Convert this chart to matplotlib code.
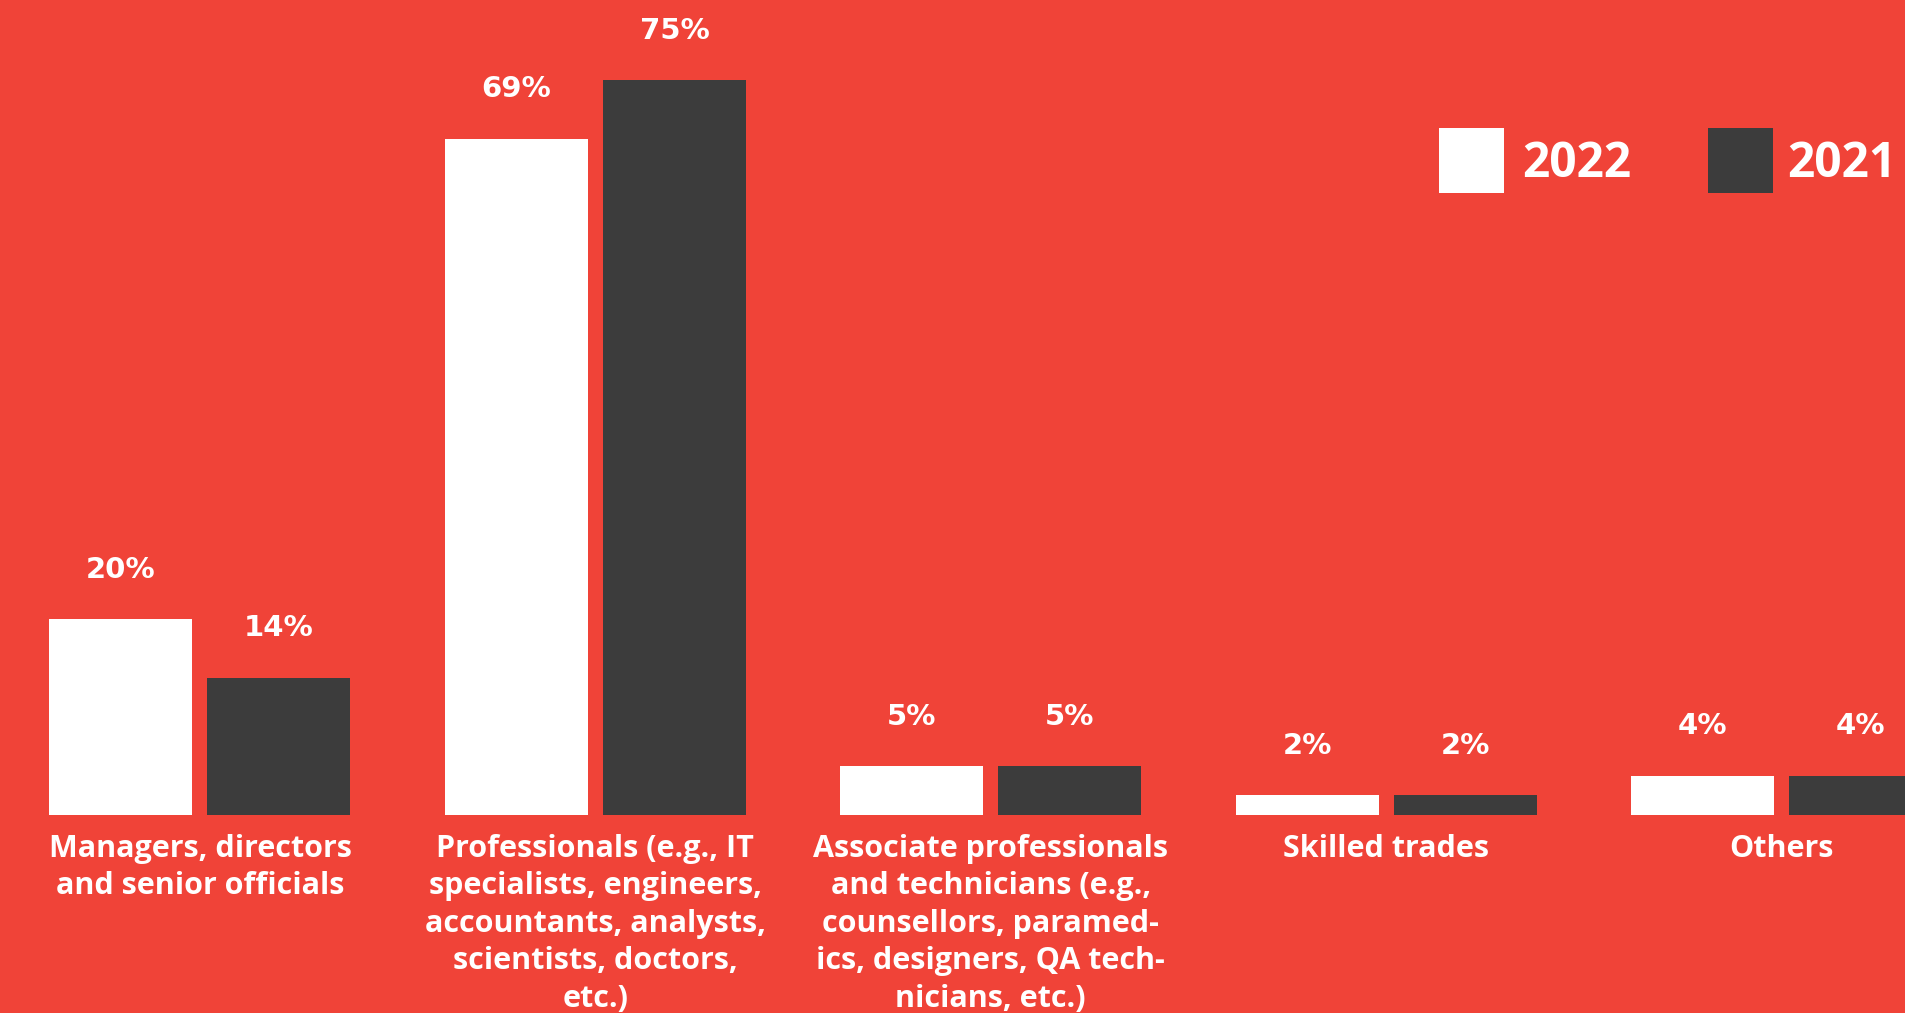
import matplotlib
matplotlib.use("Agg")
import matplotlib.pyplot as plt
from matplotlib.patches import Rectangle
import numpy as np

# ---- data ----
categories = [
    "Managers, directors\nand senior officials",
    "Professionals (e.g., IT\nspecialists, engineers,\naccountants, analysts,\nscientists, doctors,\netc.)",
    "Associate professionals\nand technicians (e.g.,\ncounsellors, paramed-\nics, designers, QA tech-\nnicians, etc.)",
    "Skilled trades",
    "Others",
]
values_2022 = [20, 69, 5, 2, 4]
values_2021 = [14, 75, 5, 2, 4]
series_labels = ["2022", "2021"]

# ---- style ----
BG = "#F04338"
WHITE = "#FFFFFF"
DARK = "#3C3C3C"
FONT = "Open Sans"
VAL_FONT = "DejaVu Sans"

W, H, DPI = 1906, 1013, 100
fig = plt.figure(figsize=(W / DPI, H / DPI), dpi=DPI, facecolor=BG)
ax = fig.add_axes([0, 0, 1, 1])
ax.set_facecolor(BG)

group_px = 395.4
x0_px = 200.0
px_per_pct = 9.8
base_px = 815.0
ax.set_xlim(-x0_px / group_px, (W - x0_px) / group_px)
ax.set_ylim(-(H - base_px) / px_per_pct, base_px / px_per_pct)

bar_w = 143 / group_px
off = 79 / group_px
x = np.arange(len(categories))
series = [values_2022, values_2021]
colors = [WHITE, DARK]
for s, (vals, col) in enumerate(zip(series, colors)):
    xs = x - off if s == 0 else x + off
    ax.bar(xs, vals, width=bar_w, color=col, linewidth=0)
    for xi, v in zip(xs, vals):
        ax.annotate(f"{v}%", xy=(xi, v), xytext=(0, 41.5 * 72 / DPI),
                    textcoords="offset points", ha="center", va="baseline",
                    color="white", fontsize=21, fontweight="bold", family=VAL_FONT)

# category labels
for xi, cat in zip(x, categories):
    for k, line in enumerate(cat.split("\n")):
        ax.annotate(line, xy=(xi, 0), xytext=(0, -(41.7 + 37.5 * k) * 72 / DPI),
                    textcoords="offset points", ha="center", va="baseline",
                    color="white", fontsize=22, fontweight="bold", family=FONT,
                    annotation_clip=False)

ax.axis("off")

# legend (manual)
leg_sq_x = [1439, 1707.7]
leg_txt_x = [1522, 1787.7]
for lab, col, sx, tx in zip(series_labels, colors, leg_sq_x, leg_txt_x):
    fig.patches.append(Rectangle((sx / W, (H - 193) / H), 65 / W, 65 / H,
                                 transform=fig.transFigure, facecolor=col,
                                 edgecolor="none"))
    fig.text(tx / W, (H - 177.3) / H, lab, ha="left", va="baseline",
             color="white", fontsize=34.5, fontweight="bold", family=FONT)

fig.savefig("out.png", dpi=DPI, facecolor=BG)
